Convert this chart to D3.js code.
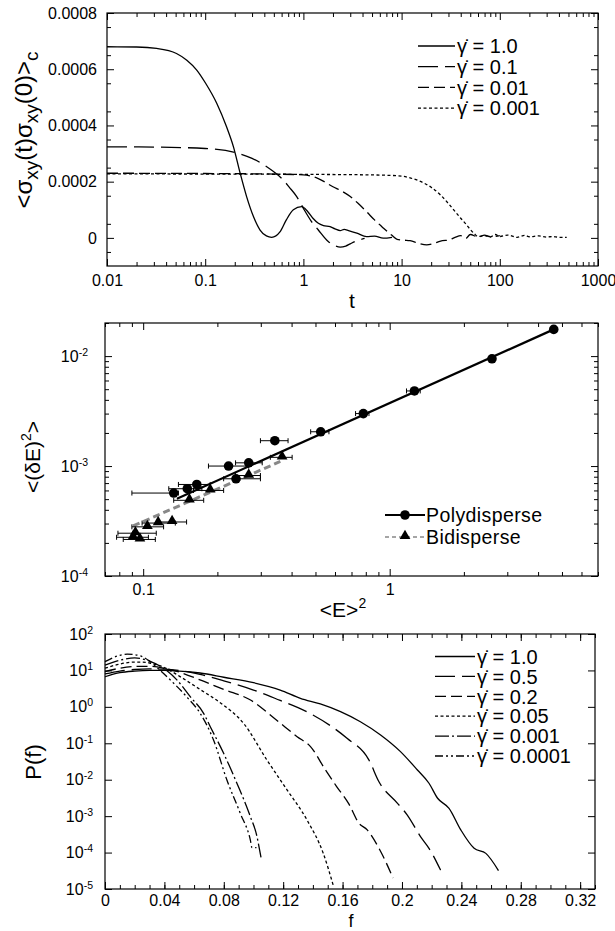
<!DOCTYPE html>
<html>
<head>
<meta charset="utf-8">
<script src="https://cdn.jsdelivr.net/npm/d3@7"></script>
<style>
body { margin: 0; background: #fff; }
text { font-family: "Liberation Sans", Arial, Helvetica, sans-serif; fill: #000; }
</style>
</head>
<body>
<script>
// ---- panel A: stress autocorrelation vs t ----
const tA1 = [0.01, 0.02, 0.032, 0.051, 0.065, 0.082, 0.101, 0.131, 0.165, 0.194, 0.227, 0.264, 0.31, 0.362, 0.42, 0.475, 0.58, 0.67, 0.79, 0.96, 1.1, 1.25, 1.42, 1.6, 1.87, 2.1, 2.37, 2.6, 2.88, 3.5, 4.4, 5.3, 6.5, 8.0];
const cA1 = [0.00068, 0.000679, 0.000674, 0.000656, 0.000632, 0.000597, 0.00055, 0.000479, 0.000395, 0.000324, 0.00023, 0.000147, 0.000076, 0.000028, 0.000007, 0.000002, 0.000022, 0.000064, 0.0001, 0.000111, 0.000095, 0.00007, 0.000052, 0.000044, 0.00004, 0.000032, 0.000026, 0.00003, 0.000026, 0.000017, 0.0000046, 0.000006, -0.000001, 0.000002];
const tA2 = [0.01, 0.03, 0.1, 0.2, 0.3, 0.4, 0.5, 0.6, 0.72, 0.855, 1.0, 1.2, 1.42, 1.79, 2.1, 2.37, 2.7, 3.0, 3.5, 4.2];
const cA2 = [0.000324, 0.000323, 0.000318, 0.000304, 0.000283, 0.000259, 0.000235, 0.000212, 0.00018, 0.000147, 0.000105, 0.00006, 0.000028, -0.000013, -0.000028, -0.000033, -0.000029, -0.000021, -0.00001, -0.000002];
const tA3 = [0.01, 0.1, 0.5, 1.0, 1.4, 2.0, 2.5, 3.0, 3.6, 4.4, 5.3, 6.3, 7.9, 9.0, 10.5, 12.2, 15, 18, 22, 26, 30, 35, 40, 45, 50, 60, 70, 80, 100];
const cA3 = [0.00023, 0.000229, 0.000227, 0.000224, 0.000212, 0.000182, 0.000165, 0.000147, 0.000123, 0.000093, 0.000064, 0.00004, 0.00001, -0.000005, -0.000008, -0.00001, -0.00002, -0.000025, -0.000018, -0.00001, -0.000008, 0.000002, 0.000008, -0.000002, 0.000012, 0.000003, 0.00001, 0.000004, 0.000008];
const tA4 = [0.01, 0.1, 1, 5, 10, 12, 15, 20, 25, 30, 35, 40, 45, 50, 55, 60, 70, 80, 90, 100, 120, 150, 180, 200, 250, 300, 350, 400, 480];
const cA4 = [0.000228, 0.000227, 0.000226, 0.000224, 0.00022, 0.000214, 0.000203, 0.00018, 0.000152, 0.000122, 0.000094, 0.00007, 0.00005, 0.00003, 0.000015, 0.000005, 0.000008, 0.000003, 0.000012, 0.000005, 0.00001, 0.000002, 0.000009, 0.000004, 0.000007, 0.000003, 0.000005, 0.000002, 0.000002];
const legendA = ["1.0", "0.1", "0.01", "0.001"];
const xTicksA = [0.01, 0.1, 1, 10, 100, 1000];
const yTicksA = [0, 0.0002, 0.0004, 0.0006, 0.0008];

// ---- panel B: energy fluctuations ----
const polyE2 = [0.133, 0.151, 0.165, 0.222, 0.238, 0.268, 0.342, 0.525, 0.782, 1.26, 2.60, 4.63];
const polyDE = [5.68e-4, 6.22e-4, 6.8e-4, 1.0e-3, 7.66e-4, 1.07e-3, 1.70e-3, 2.05e-3, 3.0e-3, 4.82e-3, 9.45e-3, 1.75e-2];
const polyLo = [0.090, 0.127, 0.139, 0.184, 0.212, 0.237, 0.299, 0.478, 0.727, 1.17, 2.60, 4.63];
const polyHi = [0.139, 0.173, 0.187, 0.268, 0.299, 0.304, 0.387, 0.567, 0.824, 1.33, 2.60, 4.63];
const biE2 = [0.093, 0.097, 0.091, 0.104, 0.115, 0.131, 0.154, 0.187, 0.268, 0.366];
const biDE = [2.45e-4, 2.15e-4, 2.25e-4, 2.8e-4, 3.03e-4, 3.1e-4, 4.88e-4, 6.0e-4, 8.2e-4, 1.2e-3];
const biLo = [0.079, 0.083, 0.078, 0.090, 0.099, 0.114, 0.133, 0.160, 0.237, 0.328];
const biHi = [0.113, 0.112, 0.105, 0.121, 0.135, 0.150, 0.176, 0.212, 0.299, 0.402];
const polyFitE2 = [0.137, 4.63];
const polyFitDE = [5.05e-4, 1.75e-2];
const biFitE2 = [0.091, 0.36];
const biFitDE = [2.85e-4, 1.1e-3];
const xTicksB = [0.1, 1];
const yTicksB = [1e-4, 1e-3, 1e-2];

// ---- panel C: force distribution ----
const fC1 = [0, 0.005, 0.01, 0.02, 0.03, 0.04, 0.05, 0.064, 0.08, 0.1, 0.118, 0.1316, 0.145, 0.1586, 0.172, 0.1856, 0.199, 0.2104, 0.2182, 0.224, 0.2317, 0.2396, 0.2486, 0.2565, 0.265];
const pC1 = [6.7, 7.8, 8.7, 9.6, 10, 10, 9.6, 8.5, 6.5, 4.6, 2.9, 1.72, 1.2, 0.74, 0.39, 0.169, 0.059, 0.0185, 8e-3, 3.1e-3, 1.64e-3, 4.2e-4, 1.31e-4, 9.5e-5, 3.2e-5];
const fC2 = [0, 0.01, 0.02, 0.03, 0.04, 0.05, 0.064, 0.08, 0.1, 0.118, 0.13, 0.14, 0.152, 0.163, 0.1777, 0.1845, 0.197, 0.2036, 0.2126, 0.2182, 0.226];
const pC2 = [8, 9.6, 10.6, 11, 10.8, 10, 7.8, 5.2, 2.9, 1.5, 0.95, 0.6, 0.3, 0.137, 0.035, 0.0088, 2.25e-3, 1.07e-3, 2.7e-4, 1.31e-4, 3.3e-5];
const fC3 = [0, 0.01, 0.02, 0.03, 0.04, 0.05, 0.064, 0.08, 0.098, 0.115, 0.1294, 0.1384, 0.1485, 0.156, 0.164, 0.171, 0.1766, 0.186, 0.194];
const pC3 = [9.3, 11.5, 12.8, 13, 11.5, 9, 5.5, 3, 1.54, 0.45, 0.152, 0.081, 0.0185, 6.5e-3, 2.25e-3, 6.4e-4, 4.2e-4, 1e-4, 2e-5];
const fC4 = [0, 0.01, 0.02, 0.025, 0.03, 0.04, 0.05, 0.064, 0.0776, 0.0934, 0.109, 0.1227, 0.136, 0.147, 0.154];
const pC4 = [11.5, 15, 17, 17, 16, 12, 7, 3, 1.3, 0.35, 0.035, 5.2e-3, 7.9e-4, 9.5e-5, 1.15e-5];
const fC5 = [0, 0.01, 0.02, 0.03, 0.04, 0.0484, 0.0574, 0.0664, 0.0709, 0.0799, 0.0889, 0.0979, 0.1024, 0.1035, 0.1053];
const pC5 = [14, 19, 22, 18, 11, 5.5, 1.9, 0.665, 0.285, 0.053, 7.9e-3, 9.7e-4, 2.7e-4, 1.6e-4, 6.5e-5];
const fC6 = [0, 0.005, 0.01, 0.015, 0.02, 0.025, 0.03, 0.035, 0.045, 0.0555, 0.0641, 0.0731, 0.0821, 0.0911, 0.0979, 0.099, 0.102];
const pC6 = [17.4, 22, 26, 28, 27, 24, 18, 12, 5, 1.8, 0.665, 0.123, 9.8e-3, 1.2e-3, 2.2e-4, 1.36e-4, 1.36e-4];
const legendC = ["1.0", "0.5", "0.2", "0.05", "0.001", "0.0001"];
const xTicksC = [0, 0.04, 0.08, 0.12, 0.16, 0.2, 0.24, 0.28, 0.32];
const yTicksC = [1e-5, 1e-4, 1e-3, 1e-2, 1e-1, 1, 10, 100];

const svg = d3.select("body").append("svg").attr("width", 615).attr("height", 931);
const FONT = '"Liberation Sans", Arial, Helvetica, sans-serif';

function frame(x0, y0, x1, y1) {
    svg.append("rect").attr("x", x0).attr("y", y0)
        .attr("width", x1 - x0).attr("height", y1 - y0)
        .attr("fill", "none").attr("stroke", "#000").attr("stroke-width", 1.2);
}

// inward ticks: negative tick size on every side
function axis(fn, scale, vals, size, tx, ty, fmt, pad) {
    const a = fn(scale).tickValues(vals).tickSize(size).tickSizeOuter(0)
        .tickPadding(pad || 0).tickFormat(fmt || (() => ""));
    const g = svg.append("g").attr("transform", `translate(${tx},${ty})`).call(a);
    g.select(".domain").remove();
    g.attr("font-family", FONT).attr("font-size", 16);
    g.selectAll("line").attr("stroke-width", 1);
    return g;
}

function isDecade(d) { return Math.abs(Math.log10(d) - Math.round(Math.log10(d))) < 1e-6; }

function powLabels(g) {
    g.selectAll(".tick text").each(function(d) {
        const t = d3.select(this);
        t.text(null);
        t.append("tspan").text("10");
        t.append("tspan").attr("dy", -6).attr("font-size", 10.5).text(Math.round(Math.log10(d)));
    });
}

function dashOf(k) {
    return ["none", "20,7", "11,5", "3,2.5", "14,3,2,3", "8,3,2,3,2,3"][k];
}

// ================= panel A =================
const xA = d3.scaleLog().domain([0.01, 1000]).range([107, 598]);
const yA = d3.scaleLinear().domain([-0.0001, 0.0008]).range([266, 13]);
frame(107, 13, 598, 266);
const minorA = xA.ticks().filter(d => !isDecade(d));
const minorAy = d3.range(-1, 8).map(i => i * 0.0001 + 0.00005).filter(d => d < 0.0008);
axis(d3.axisBottom, xA, xTicksA, -7, 0, 266, d => String(d), 9);
axis(d3.axisBottom, xA, minorA, -4, 0, 266);
axis(d3.axisTop, xA, xTicksA, -7, 0, 13);
axis(d3.axisTop, xA, minorA, -4, 0, 13);
axis(d3.axisLeft, yA, yTicksA, -7, 107, 0, d => String(d), 10);
axis(d3.axisLeft, yA, minorAy, -4, 107, 0);
axis(d3.axisRight, yA, yTicksA, -7, 598, 0);
axis(d3.axisRight, yA, minorAy, -4, 598, 0);

const lineA = d3.line().x(d => xA(d[0])).y(d => yA(d[1])).curve(d3.curveMonotoneX);
const seriesA = [d3.zip(tA1, cA1), d3.zip(tA2, cA2), d3.zip(tA3, cA3), d3.zip(tA4, cA4)];
svg.append("g").selectAll("path").data(seriesA).join("path")
    .attr("d", lineA).attr("fill", "none").attr("stroke", "#000")
    .attr("stroke-width", 1.3).attr("stroke-dasharray", (d, i) => dashOf(i));

const legA = svg.append("g").selectAll("g").data(legendA).join("g")
    .attr("transform", (d, i) => `translate(418,${46 + i * 20.7})`);
legA.append("line").attr("x1", 0).attr("x2", 37).attr("stroke", "#000").attr("stroke-width", 1.3)
    .attr("stroke-dasharray", (d, i) => dashOf(i));
legA.append("text").attr("x", 39).attr("dy", "0.36em").attr("font-size", 20).text(d => "γ\u0307 = " + d);

svg.append("text").attr("x", 352).attr("y", 308).attr("text-anchor", "middle").attr("font-size", 21).text("t");
const yLabA = svg.append("text").attr("transform", "translate(32,130) rotate(-90)")
    .attr("text-anchor", "middle").attr("font-size", 24);
yLabA.append("tspan").text("<σ");
yLabA.append("tspan").attr("dy", 6).attr("font-size", 19).text("xy");
yLabA.append("tspan").attr("dy", -6).text("(t)σ");
yLabA.append("tspan").attr("dy", 6).attr("font-size", 19).text("xy");
yLabA.append("tspan").attr("dy", -6).text("(0)>");
yLabA.append("tspan").attr("dy", 6).attr("font-size", 19).text("c");

// ================= panel B =================
const xB = d3.scaleLog().domain([0.07, 7]).range([105, 598]);
const yB = d3.scaleLog().domain([1e-4, 2e-2]).range([576, 323]);
frame(105, 323, 598, 576);
const minorBx = xB.ticks().filter(d => !isDecade(d));
const minorBy = yB.ticks().filter(d => !isDecade(d));
axis(d3.axisBottom, xB, xTicksB, -7, 0, 576, d => String(d), 8);
axis(d3.axisBottom, xB, minorBx, -4, 0, 576);
axis(d3.axisTop, xB, xTicksB, -7, 0, 323);
axis(d3.axisTop, xB, minorBx, -4, 0, 323);
powLabels(axis(d3.axisLeft, yB, yTicksB, -7, 105, 0, () => "", 17));
axis(d3.axisLeft, yB, minorBy, -4, 105, 0);
axis(d3.axisRight, yB, yTicksB, -7, 598, 0);
axis(d3.axisRight, yB, minorBy, -4, 598, 0);

const lineB = d3.line().x(d => xB(d[0])).y(d => yB(d[1]));
svg.append("path").datum(d3.zip(biFitE2, biFitDE)).attr("d", lineB)
    .attr("fill", "none").attr("stroke", "#888").attr("stroke-width", 3).attr("stroke-dasharray", "7,4");
svg.append("path").datum(d3.zip(polyFitE2, polyFitDE)).attr("d", lineB)
    .attr("fill", "none").attr("stroke", "#000").attr("stroke-width", 2.2);

function errBars(xs, ys, lo, hi) {
    const g = svg.append("g").attr("stroke", "#000").attr("stroke-width", 1);
    const rows = d3.zip(xs, ys, lo, hi).filter(r => r[3] > r[2]);
    g.selectAll(".h").data(rows).join("line").attr("x1", r => xB(r[2])).attr("x2", r => xB(r[3]))
        .attr("y1", r => yB(r[1])).attr("y2", r => yB(r[1]));
    g.selectAll(".l").data(rows).join("line").attr("x1", r => xB(r[2])).attr("x2", r => xB(r[2]))
        .attr("y1", r => yB(r[1]) - 2.5).attr("y2", r => yB(r[1]) + 2.5);
    g.selectAll(".r").data(rows).join("line").attr("x1", r => xB(r[3])).attr("x2", r => xB(r[3]))
        .attr("y1", r => yB(r[1]) - 2.5).attr("y2", r => yB(r[1]) + 2.5);
}
errBars(biE2, biDE, biLo, biHi);
errBars(polyE2, polyDE, polyLo, polyHi);

const tri = d3.symbol().type(d3.symbolTriangle).size(50);
svg.append("g").selectAll("path").data(d3.zip(biE2, biDE)).join("path")
    .attr("transform", d => `translate(${xB(d[0])},${yB(d[1]) - 1})`).attr("d", tri).attr("fill", "#000");
svg.append("g").selectAll("circle").data(d3.zip(polyE2, polyDE)).join("circle")
    .attr("cx", d => xB(d[0])).attr("cy", d => yB(d[1])).attr("r", 4.8).attr("fill", "#000");

// legend B
svg.append("line").attr("x1", 385).attr("x2", 425).attr("y1", 515).attr("y2", 515).attr("stroke", "#000").attr("stroke-width", 2);
svg.append("circle").attr("cx", 405).attr("cy", 515).attr("r", 4.8).attr("fill", "#000");
svg.append("text").attr("x", 426).attr("y", 515).attr("dy", "0.36em").attr("font-size", 19.5).attr("letter-spacing", 0.4).text("Polydisperse");
svg.append("line").attr("x1", 385).attr("x2", 425).attr("y1", 537).attr("y2", 537).attr("stroke", "#888").attr("stroke-width", 1.5).attr("stroke-dasharray", "4,3");
svg.append("path").attr("transform", "translate(405,536)").attr("d", tri).attr("fill", "#000");
svg.append("text").attr("x", 426).attr("y", 537).attr("dy", "0.36em").attr("font-size", 19.5).attr("letter-spacing", 0.4).text("Bidisperse");

const xLabB = svg.append("text").attr("x", 343).attr("y", 617).attr("text-anchor", "middle").attr("font-size", 21);
xLabB.append("tspan").text("<E>");
xLabB.append("tspan").attr("dy", -9).attr("font-size", 14).text("2");
const yLabB = svg.append("text").attr("transform", "translate(40,457) rotate(-90)")
    .attr("text-anchor", "middle").attr("font-size", 21);
yLabB.append("tspan").text("<(δE)");
yLabB.append("tspan").attr("dy", -9).attr("font-size", 14).text("2");
yLabB.append("tspan").attr("dy", 9).text(">");

// ================= panel C =================
const xC = d3.scaleLinear().domain([0, 0.33]).range([105, 595]);
const yC = d3.scaleLog().domain([1e-5, 100]).range([889, 634]);
frame(105, 634, 595, 889);
const minorC = d3.range(1, 34).map(i => i * 0.01);
axis(d3.axisBottom, xC, xTicksC, -7, 0, 889, d => String(d), 6);
axis(d3.axisBottom, xC, minorC, -4, 0, 889);
axis(d3.axisTop, xC, xTicksC, -7, 0, 634);
axis(d3.axisTop, xC, minorC, -4, 0, 634);
powLabels(axis(d3.axisLeft, yC, yTicksC, -7, 105, 0, () => "", 12));
axis(d3.axisRight, yC, yTicksC, -7, 595, 0);

const lineC = d3.line().x(d => xC(d[0])).y(d => yC(d[1])).curve(d3.curveMonotoneX);
const seriesC = [d3.zip(fC1, pC1), d3.zip(fC2, pC2), d3.zip(fC3, pC3), d3.zip(fC4, pC4), d3.zip(fC5, pC5), d3.zip(fC6, pC6)];
svg.append("g").selectAll("path").data(seriesC).join("path")
    .attr("d", lineC).attr("fill", "none").attr("stroke", "#000")
    .attr("stroke-width", 1.3).attr("stroke-dasharray", (d, i) => dashOf(i));

const legC = svg.append("g").selectAll("g").data(legendC).join("g")
    .attr("transform", (d, i) => `translate(435,${656.5 + i * 19.9})`);
legC.append("line").attr("x1", 0).attr("x2", 40).attr("stroke", "#000").attr("stroke-width", 1.3)
    .attr("stroke-dasharray", (d, i) => dashOf(i));
legC.append("text").attr("x", 42).attr("dy", "0.36em").attr("font-size", 20).text(d => "γ\u0307 = " + d);

svg.append("text").attr("x", 351).attr("y", 926.5).attr("text-anchor", "middle").attr("font-size", 18).text("f");
svg.append("text").attr("transform", "translate(41,762) rotate(-90)")
    .attr("text-anchor", "middle").attr("font-size", 22).text("P(f)");
</script>
</body>
</html>
